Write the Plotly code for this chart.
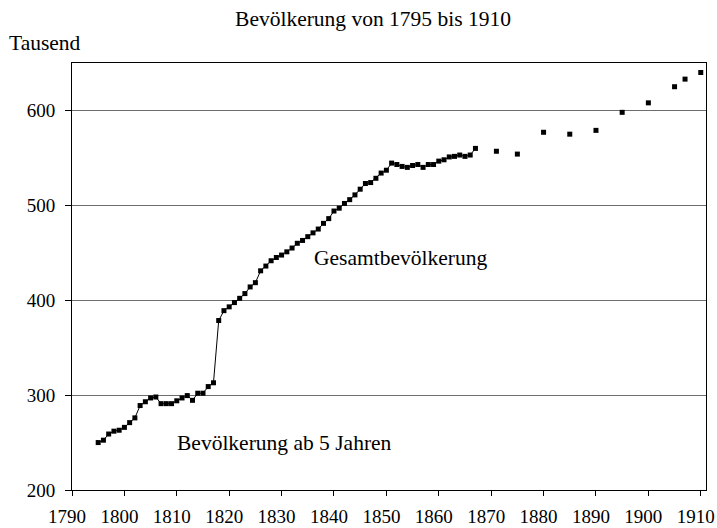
import plotly.graph_objs as go

### DATA

# jaehrliche Werte (mit Linie verbunden)
years_annual = list(range(1795, 1868))
pop_annual = [250, 252.5, 259, 262, 263, 266, 271, 276, 289, 293,
              297, 298, 291, 291, 291, 294, 297, 299.5, 294.5, 302,
              302, 309, 313, 378.6, 389, 393, 397.5, 402, 407, 414,
              418.5, 431, 436, 441.6, 445, 447.6, 451, 455, 460, 463,
              467, 471, 475, 481, 486, 494, 497, 502, 506, 511,
              517, 523, 524, 528.5, 534, 537, 544.5, 543, 541, 540,
              542, 543, 540, 543, 543, 546.6, 548, 551, 551.6, 553,
              551.6, 553, 560]

# Zaehlungen nach 1867 (nur Punkte)
years_census = [1871, 1875, 1880, 1885, 1890, 1895, 1900, 1905, 1907, 1910]
pop_census = [557, 554, 577, 575, 579, 598, 608, 625, 633, 640]

x_ticks = list(range(1790, 1911, 10))
y_ticks = [200, 300, 400, 500, 600]

title_text = "Bevölkerung von 1795 bis 1910"
y_unit = "Tausend"
label_total = "Gesamtbevölkerung"
label_5plus = "Bevölkerung ab 5 Jahren"

### FIGURE

font_name = "Liberation Serif"
tick_font = dict(family=font_name, size=19, color="black")
text_font = dict(family=font_name, size=21.5, color="black")

data = [
    go.Scatter(x=years_annual, y=pop_annual,
               mode="lines+markers",
               line=dict(color="black", width=1),
               marker=dict(symbol="square", size=5, color="black"),
               showlegend=False),
    go.Scatter(x=years_census, y=pop_census,
               mode="markers",
               marker=dict(symbol="square", size=5, color="black"),
               showlegend=False),
]

layout = go.Layout(
    width=717,
    height=528,
    margin=dict(l=72, r=11, t=63, b=38, autoexpand=False),
    paper_bgcolor="white",
    plot_bgcolor="white",
    font=tick_font,
    title=dict(text=title_text, x=373 / 717, xanchor="center",
               y=1 - 18 / 528, yanchor="middle", yref="container",
               font=text_font),
    xaxis=dict(range=[1790, 1911], tickvals=x_ticks, tickfont=tick_font,
               showgrid=False, zeroline=False, automargin=False,
               showline=True, linecolor="black", linewidth=1, mirror=True,
               ticks="outside", ticklen=5, tickcolor="black",
               ticklabelstandoff=4, ticklabelshift=-5,
               ticklabeloverflow="allow"),
    yaxis=dict(range=[200, 650], tickvals=y_ticks, tickfont=tick_font,
               showgrid=True, gridcolor="#6e6e6e", gridwidth=1,
               zeroline=False, automargin=False,
               showline=True, linecolor="black", linewidth=1, mirror=True,
               ticks="outside", ticklen=6, tickcolor="black",
               ticklabelstandoff=6),
    annotations=[
        dict(text=y_unit, xref="paper", yref="paper",
             x=-65 / 635, y=1 + 20 / 427, xanchor="left", yanchor="middle",
             showarrow=False, font=text_font),
        dict(text=label_total, x=1852.6, y=445, showarrow=False,
             xanchor="center", yanchor="middle", font=text_font),
        dict(text=label_5plus, x=1830.5, y=249.5, showarrow=False,
             xanchor="center", yanchor="middle", font=text_font),
    ],
)

fig = go.Figure(data=data, layout=layout)
# body-Rand weg, damit die Grafik genau im Fenster sitzt
fig.write_html("out.html", config={"displayModeBar": False},
               post_script="document.body.style.margin='0';")
